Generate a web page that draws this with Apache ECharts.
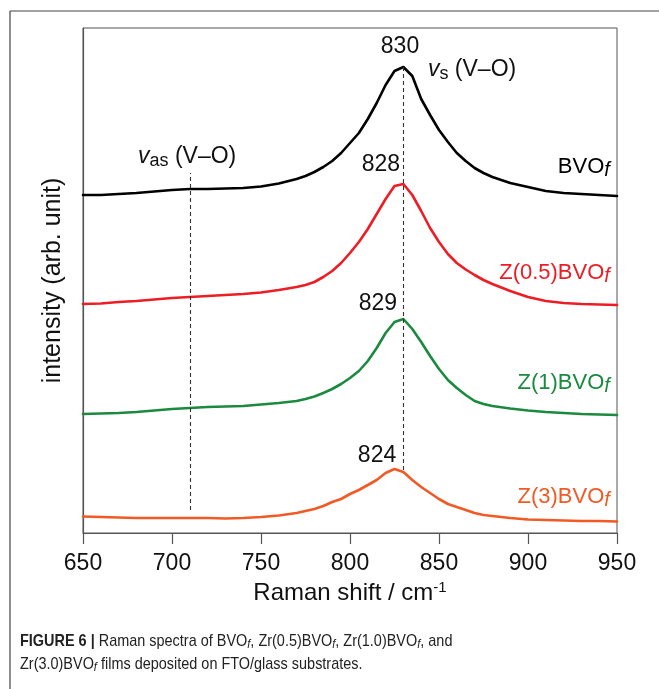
<!DOCTYPE html>
<html>
<head>
<meta charset="utf-8">
<script src="https://cdn.jsdelivr.net/npm/echarts@6/dist/echarts.min.js"></script>
<style>
html,body{margin:0;padding:0;background:#fff;}
#chart{width:659px;height:689px;}
</style>
</head>
<body>
<div id="chart"></div>
<script>
// Raman shift values (cm-1)
var shifts = [650,660,670,680,690,700,710,720,730,740,750,760,770,775,780,785,790,795,800,805,810,815,820,825,830,835,840,845,850,855,860,865,870,875,880,890,900,910,920,930,940,950];
// Intensities (arb. unit, already vertically offset as plotted)
var bvo = [338,338,339,340,341.5,343,344,344,344.5,345,346.5,349.5,354,357,361,366,372,380,390,400,414,430,448,462,466,457,434,418,403,391,380,372,365,360,356,350,346,342,340,339,338,337];
var z05 = [229,229.5,231,232,233.5,235,236,237,238,239,240.5,243,246,248,251,256,262,270,280,291,304,319,334,347,349,338,322,305,291,279,270,263.5,258,253,249,242,236,232,230,229,228.5,228];
var z1  = [119,119.5,120,121,122.5,124,125,126,126.5,127,128.5,130,132,134,136.5,140,144,149,155,162,172,185,200,211,214,204,191,177,164,153,145,138,132,129,127,124.5,122.5,121,120,119,118.5,118];
var z3  = [16.5,16,15.5,15,15,15,15,15,14.5,15,16,17.5,20,22,24,27,31,34,39,43,48,53,60,64,61,53,46,40,34,29,26,23,20,18,17,15,13.5,13,12.5,12,12,11.5];
var seriesNames = ['BVOf','Z(0.5)BVOf','Z(1)BVOf','Z(3)BVOf'];
var seriesLabels = ['BVO{i|f}','Z(0.5)BVO{i|f}','Z(1)BVO{i|f}','Z(3)BVO{i|f}'];
var seriesColors = ['#000000','#ee1c24','#1b8a3e','#f15a24'];
var xTicks = [650,700,750,800,850,900,950];
// label anchors [x, y] in data units
var nameAnchors = [[946,366],[946,260],[946,150],[946,36]];
var peakLabels = ['830','828','829','824'];
var peakAnchors = [[828.1,486],[817.4,368],[815.7,229],[815.2,77]];
var dashedLines = [[710,23,360],[830,63,468]];

function pairs(ys){ return shifts.map(function(x,i){ return [x, ys[i]]; }); }
var allY = [bvo, z05, z1, z3];
var font = 'Liberation Sans, Arial, Helvetica, sans-serif';
var capFont = '"Liberation Sans Narrow", "Arial Narrow", "Liberation Sans", sans-serif';

var series = allY.map(function(ys, k){
  return {
    type:'line', name: seriesNames[k], data: pairs(ys), showSymbol:false, smooth:false,
    lineStyle:{color: seriesColors[k], width:2.6, join:'round', cap:'round'}, itemStyle:{color:seriesColors[k]},
    silent:true, z: 3,
    markPoint:{
      symbol:'circle', symbolSize:0, silent:true, animation:false,
      data:[
        {coord: nameAnchors[k], value: seriesLabels[k], label:{show:true, position:'inside', align:'right', verticalAlign:'middle', formatter: seriesLabels[k], color: seriesColors[k], fontSize:22, fontFamily:font, rich:{i:{fontStyle:'italic', fontSize:20, color: seriesColors[k], fontFamily:font, padding:[6,0,0,0]}}}},
        {coord: peakAnchors[k], value: peakLabels[k], label:{show:true, position:'inside', align:'center', verticalAlign:'middle', formatter: peakLabels[k], color:'#111', fontSize:23, fontFamily:font}}
      ]
    }
  };
});

// annotation and dashed lines on an extra series
series.push({
  type:'line', data:[], silent:true,
  markLine:{
    symbol:['none','none'], silent:true, animation:false,
    lineStyle:{color:'#333', type:[4,3], width:1.1},
    label:{show:false},
    data: dashedLines.map(function(d){ return [{coord:[d[0], d[1]]},{coord:[d[0], d[2]]}]; })
  },
  markPoint:{
    symbol:'circle', symbolSize:0, silent:true, animation:false,
    data:[
      {coord:[680.9,376], label:{show:true, position:'inside', align:'left', verticalAlign:'middle', formatter:'{v|v}{s|as} (V\u2013O)', color:'#111', fontSize:23, fontFamily:font,
        rich:{v:{fontStyle:'italic', fontSize:23, color:'#111', fontFamily:font}, s:{fontSize:18, color:'#111', fontFamily:font, padding:[8,0,0,0]}}}},
      {coord:[843.8,463], label:{show:true, position:'inside', align:'left', verticalAlign:'middle', formatter:'{v|v}{s|s} (V\u2013O)', color:'#111', fontSize:23, fontFamily:font,
        rich:{v:{fontStyle:'italic', fontSize:23, color:'#111', fontFamily:font}, s:{fontSize:18, color:'#111', fontFamily:font, padding:[8,0,0,0]}}}}
    ]
  }
});

var chart = echarts.init(document.getElementById('chart'), null, {renderer:'canvas'});
chart.setOption({
  animation:false,
  backgroundColor:'#fff',
  grid:{left:83, top:28, right:42, bottom:156, show:true, borderColor:'#555', borderWidth:1, backgroundColor:'transparent'},
  xAxis:{
    type:'value', min:650, max:950, interval:50,
    name:'Raman shift / cm{sup|-1}', nameLocation:'middle', nameGap:46,
    nameTextStyle:{fontSize:24, color:'#111', fontFamily:font, rich:{sup:{fontSize:15, color:'#111', fontFamily:font, padding:[0,0,12,0]}}},
    axisLine:{show:true, lineStyle:{color:'#555', width:1.2}},
    axisTick:{show:true, inside:false, length:11, lineStyle:{color:'#555', width:1.2}},
    axisLabel:{fontSize:23, color:'#111', fontFamily:font, margin:19,
      formatter:function(v){ return xTicks.indexOf(v) >= 0 ? String(v) : ''; }},
    splitLine:{show:false}
  },
  yAxis:{
    type:'value', min:0, max:505,
    name:'intensity (arb. unit)', nameLocation:'middle', nameGap:17,
    nameTextStyle:{fontSize:25, color:'#111', fontFamily:font},
    axisLine:{show:true, lineStyle:{color:'#555', width:1.2}},
    axisTick:{show:false}, axisLabel:{show:false}, splitLine:{show:false}
  },
  graphic:[
    {type:'line', shape:{x1:10, y1:11, x2:659, y2:11}, style:{stroke:'#444', lineWidth:1.2}, silent:true},
    {type:'line', shape:{x1:10, y1:11, x2:10, y2:689}, style:{stroke:'#444', lineWidth:1.2}, silent:true},
    {type:'text', x:20, y:632, scaleX:0.85, originX:0, originY:0, silent:true, style:{
      text:'{b|FIGURE 6 |} Raman spectra of BVO{i|f}, Zr(0.5)BVO{i|f}, Zr(1.0)BVO{i|f}, and',
      fill:'#222', font:'17px ' + capFont,
      rich:{b:{fontWeight:'bold', fontSize:17, fontFamily:capFont, fill:'#222'},
            i:{fontStyle:'italic', fontSize:13, fontFamily:capFont, fill:'#222', padding:[6,0,0,0]}}}},
    {type:'text', x:20, y:655, scaleX:0.85, originX:0, originY:0, silent:true, style:{
      text:'Zr(3.0)BVO{i|f} films deposited on FTO/glass substrates.',
      fill:'#222', font:'17px ' + capFont,
      rich:{i:{fontStyle:'italic', fontSize:13, fontFamily:capFont, fill:'#222', padding:[6,0,0,0]}}}}
  ],
  series: series
});
</script>
</body>
</html>
